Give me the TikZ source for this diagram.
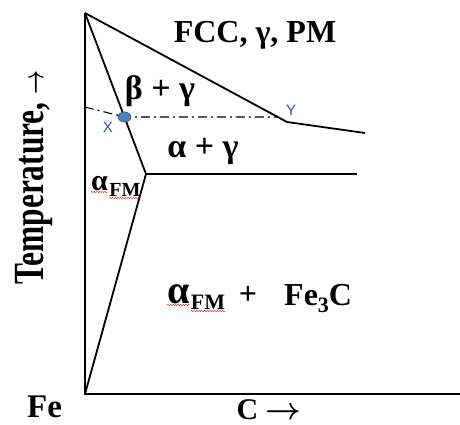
\documentclass[tikz,border=0pt]{standalone}
\usepackage{fontspec}
\setmainfont{Liberation Serif}
\newfontfamily\pointfont{Liberation Sans}
\usetikzlibrary{arrows.meta,positioning,shapes.geometric,decorations.pathmorphing}
\definecolor{phaseInk}{HTML}{000000}
\definecolor{pointFill}{HTML}{4F81BD}
\definecolor{pointEdge}{HTML}{2F5597}
\definecolor{pointText}{HTML}{2E5597}
\definecolor{spellRed}{HTML}{E8382F}
\newcommand{\phasesub}[1]{\raisebox{-0.22em}{\fontsize{22}{22}\selectfont #1}}
\newcommand{\axisarrow}{{\boldmath$\rightarrow$}}
\tikzset{
  axisline/.style={draw=phaseInk, line width=2.3pt},
  phaseline/.style={draw=phaseInk, line width=1.8pt, line join=round},
  tieline/.style={draw=phaseInk, line width=1.1pt,
                  dash pattern=on 9pt off 4pt on 2pt off 4pt},
  bigLabel/.style={font=\bfseries\fontsize{32}{34}\selectfont, text=phaseInk,
                   inner sep=0pt, anchor=base},
  subLabel/.style={font=\bfseries\fontsize{22}{24}\selectfont, text=phaseInk,
                   inner sep=0pt, anchor=base west},
  axisLabel/.style={font=\bfseries\fontsize{33}{35}\selectfont, text=phaseInk,
                    inner sep=0pt, anchor=base},
  pointLabel/.style={font=\pointfont\fontsize{15}{16}\selectfont, text=pointText,
                     inner sep=0pt},
  pointDot/.style={ellipse, fill=pointFill, draw=pointEdge, line width=0.6pt,
                   minimum width=13pt, minimum height=10pt, inner sep=0pt},
  spellmark/.style={draw=spellRed, line width=0.5pt, decorate,
                    decoration={snake, amplitude=0.7pt, segment length=2.6pt}}
}

\begin{document}
\begin{tikzpicture}[x=1pt, y=-1pt]
\useasboundingbox (0,0) rectangle (460,425);

% ------------------------------------------------------------
% CORNERS OF THE DIAGRAM
% ------------------------------------------------------------
\coordinate (meltFe)   at (85,13);
\coordinate (originFe) at (85,394);
\coordinate (axisEnd)  at (460,394);
\coordinate (kinkY)    at (287,122);
\coordinate (liqEnd)   at (365,133);
\coordinate (eutKink)  at (146,174);
\coordinate (eutEnd)   at (357,174);
\coordinate (tieLeft)  at (85,107);
\coordinate (tieX)     at (124.5,117);
\coordinate (tieRight) at (278,117);

% axes
\draw[axisline] (meltFe) -- (originFe) -- (axisEnd);

% ------------------------------------------------------------
% PHASE BOUNDARIES
% ------------------------------------------------------------
\draw[phaseline] (meltFe) -- (kinkY) -- (liqEnd);
\draw[phaseline] (meltFe) -- (eutKink) -- (originFe);
\draw[phaseline] (eutKink) -- (eutEnd);

% tie line X -- Y
\draw[tieline] (tieLeft) -- (tieX) -- (tieRight);
\node[pointDot] (ptX) at (tieX) {};
\node[pointLabel] (labX) at (108,127) {X};
\node[pointLabel] (labY) at (291,110) {Y};

% ------------------------------------------------------------
% PHASE FIELDS
% ------------------------------------------------------------
\node[bigLabel] (fcc) at (255,43) {FCC, γ, PM};
\node[bigLabel, font=\bfseries\fontsize{34}{36}\selectfont] (betaGamma) at (160,100) {β + γ};
\node[bigLabel, font=\bfseries\fontsize{34}{36}\selectfont] (alphaGamma) at (203,157) {α + γ};

% alpha_FM next to the axis
\node[bigLabel, anchor=base west, font=\bfseries\fontsize{30}{32}\selectfont]
  (fmAlpha) at (91,190) {α};
\node[subLabel, font=\bfseries\fontsize{20}{22}\selectfont]
  (fmSub) at ([xshift=1pt,yshift=-6pt]fmAlpha.base east) {FM};
\draw[spellmark] ([yshift=-2pt]fmAlpha.base west) -- ([yshift=-2pt]fmAlpha.base east);
\draw[spellmark] ([yshift=-2pt]fmSub.base west) -- ([yshift=-2pt]fmSub.base east);

% alpha_FM + Fe3C
\node[bigLabel, anchor=base west, font=\bfseries\fontsize{40}{42}\selectfont]
  (lowAlpha) at (167,303) {α};
\node[subLabel] (lowSub) at ([xshift=1pt,yshift=-6pt]lowAlpha.base east) {FM};
\node[bigLabel] (plusSign) at (248,304) {+};
\node[bigLabel, anchor=base west] (cementite) at (284,305) {Fe\phasesub{3}C};
\draw[spellmark] ([yshift=-2pt]lowAlpha.base west) -- ([yshift=-2pt]lowAlpha.base east);
\draw[spellmark] ([yshift=-2pt]lowSub.base west) -- ([yshift=-2pt]lowSub.base east);

% ------------------------------------------------------------
% AXIS LABELS
% ------------------------------------------------------------
\node[axisLabel] (feLabel) at (44.5,417) {Fe};
\node[axisLabel, font=\bfseries\fontsize{30}{32}\selectfont]
  (cLabel) at (269,419) {C \scalebox{1.25}{\axisarrow}};
\node[axisLabel, font=\bfseries\fontsize{43}{45}\selectfont, rotate=90]
  (tempLabel) at (43,177.5) {\scalebox{0.73}[1]{Temperature, \scalebox{1.15}{\axisarrow}}};

\end{tikzpicture}
\end{document}
